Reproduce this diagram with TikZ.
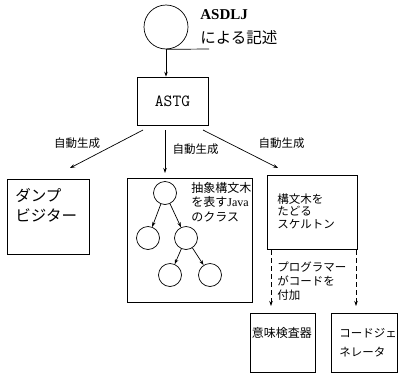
\documentclass[tikz,border=0pt]{standalone}
\usepackage{fontspec}
\setmainfont{Liberation Serif}
\newfontfamily\jp{Noto Sans CJK JP}
\usetikzlibrary{arrows.meta}
\begin{document}
\begin{tikzpicture}[x=1pt,y=-1pt,
  line width=0.7pt,
  tip/.style={-{Stealth[length=5pt,width=3.5pt]}},
  txt/.style={anchor=west, inner sep=0pt, font=\jp\fontsize{11.5}{13}\selectfont, align=left},
  big/.style={anchor=west, inner sep=0pt, font=\jp\fontsize{15.5}{20}\selectfont, align=left},
  lab/.style={inner sep=0pt, font=\jp\fontsize{11.5}{13}\selectfont},
  tc/.style={circle, draw, minimum size=23pt, inner sep=0pt},
  dsh/.style={dash pattern=on 5pt off 3pt}
]
\useasboundingbox (0,0) rectangle (398,375);
% source circle
\node[circle, draw, minimum size=44pt, inner sep=0pt] (c) at (166,27) {};
\coordinate (ul) at (209,49);
\draw (c.south) -- (ul);
\node[anchor=west, inner sep=0pt, font=\bfseries\fontsize{15}{18}\selectfont] (asdlj) at (200,15) {ASDLJ};
\node[big] (desc) at (200,38) {による記述};
% ASTG
\node[draw, minimum width=71pt, minimum height=48pt, inner sep=0pt, font=\ttfamily\fontsize{17}{18}\selectfont] (astg) at (172.5,101) {ASTG};
\draw[tip] (c.south) -- (astg.north -| c.south);
% boxes
\node[draw, minimum width=82pt, minimum height=75pt, inner sep=0pt] (dump) at (48,216.5) {};
\node[draw, minimum width=125pt, minimum height=124pt, inner sep=0pt] (ast) at (189.5,240) {};
\node[draw, minimum width=90pt, minimum height=74pt, inner sep=0pt] (skel) at (312,212) {};
\node[draw, minimum width=65pt, minimum height=59pt, inner sep=0pt] (sem) at (282.5,342.5) {};
\node[draw, minimum width=66pt, minimum height=59pt, inner sep=0pt] (gen) at (364,342.5) {};
% texts in boxes
\node[big] (dumpt) at (15,205) {ダンプ\\ビジター};
\node[txt, font=\jp\fontsize{12}{14.5}\selectfont] (astt) at (191,202) {抽象構文木\\を表す{\rmfamily Java}\\のクラス};
\node[txt, font=\jp\fontsize{11.5}{12.5}\selectfont] (skelt) at (277,211) {構文木を\\たどる\\スケルトン};
\node[txt, font=\jp\fontsize{12}{14}\selectfont] (semt) at (251.5,333) {意味検査器};
\node[txt, font=\jp\fontsize{11.5}{19}\selectfont] (gent) at (339,342.5) {コードジェ\\ネレータ};
% generation arrows
\coordinate (a1s) at (143,130); \coordinate (a1e) at (70,168);
\coordinate (a2s) at (165,130); \coordinate (a2e) at (165,173);
\coordinate (a3s) at (203,130); \coordinate (a3e) at (278,168);
\draw[tip] (a1s) -- (a1e);
\draw[tip] (a2s) -- (a2e);
\draw[tip] (a3s) -- (a3e);
\node[lab] (l1) at (77,143) {自動生成};
\node[lab] (l2) at (195.5,149) {自動生成};
\node[lab] (l3) at (281.5,143) {自動生成};
% tree
\node[tc] (t0) at (165,193) {};
\node[tc] (t1) at (148,238) {};
\node[tc] (t2) at (186,238) {};
\node[tc] (t3) at (170,275) {};
\node[tc] (t4) at (210,275) {};
\draw[tip] (t0) -- (t1);
\draw[tip] (t0) -- (t2);
\draw[tip] (t2) -- (t3);
\draw[tip] (t2) -- (t4);
% dashed arrows
\coordinate (d1s) at (271,250); \coordinate (d1e) at (271,306);
\coordinate (d2s) at (356,250); \coordinate (d2e) at (356,306);
\draw[tip, dsh] (d1s) -- (d1e);
\draw[tip, dsh] (d2s) -- (d2e);
\node[txt, font=\jp\fontsize{11.5}{14}\selectfont] (prog) at (277,281) {プログラマー\\がコードを\\付加};
\end{tikzpicture}
\end{document}
